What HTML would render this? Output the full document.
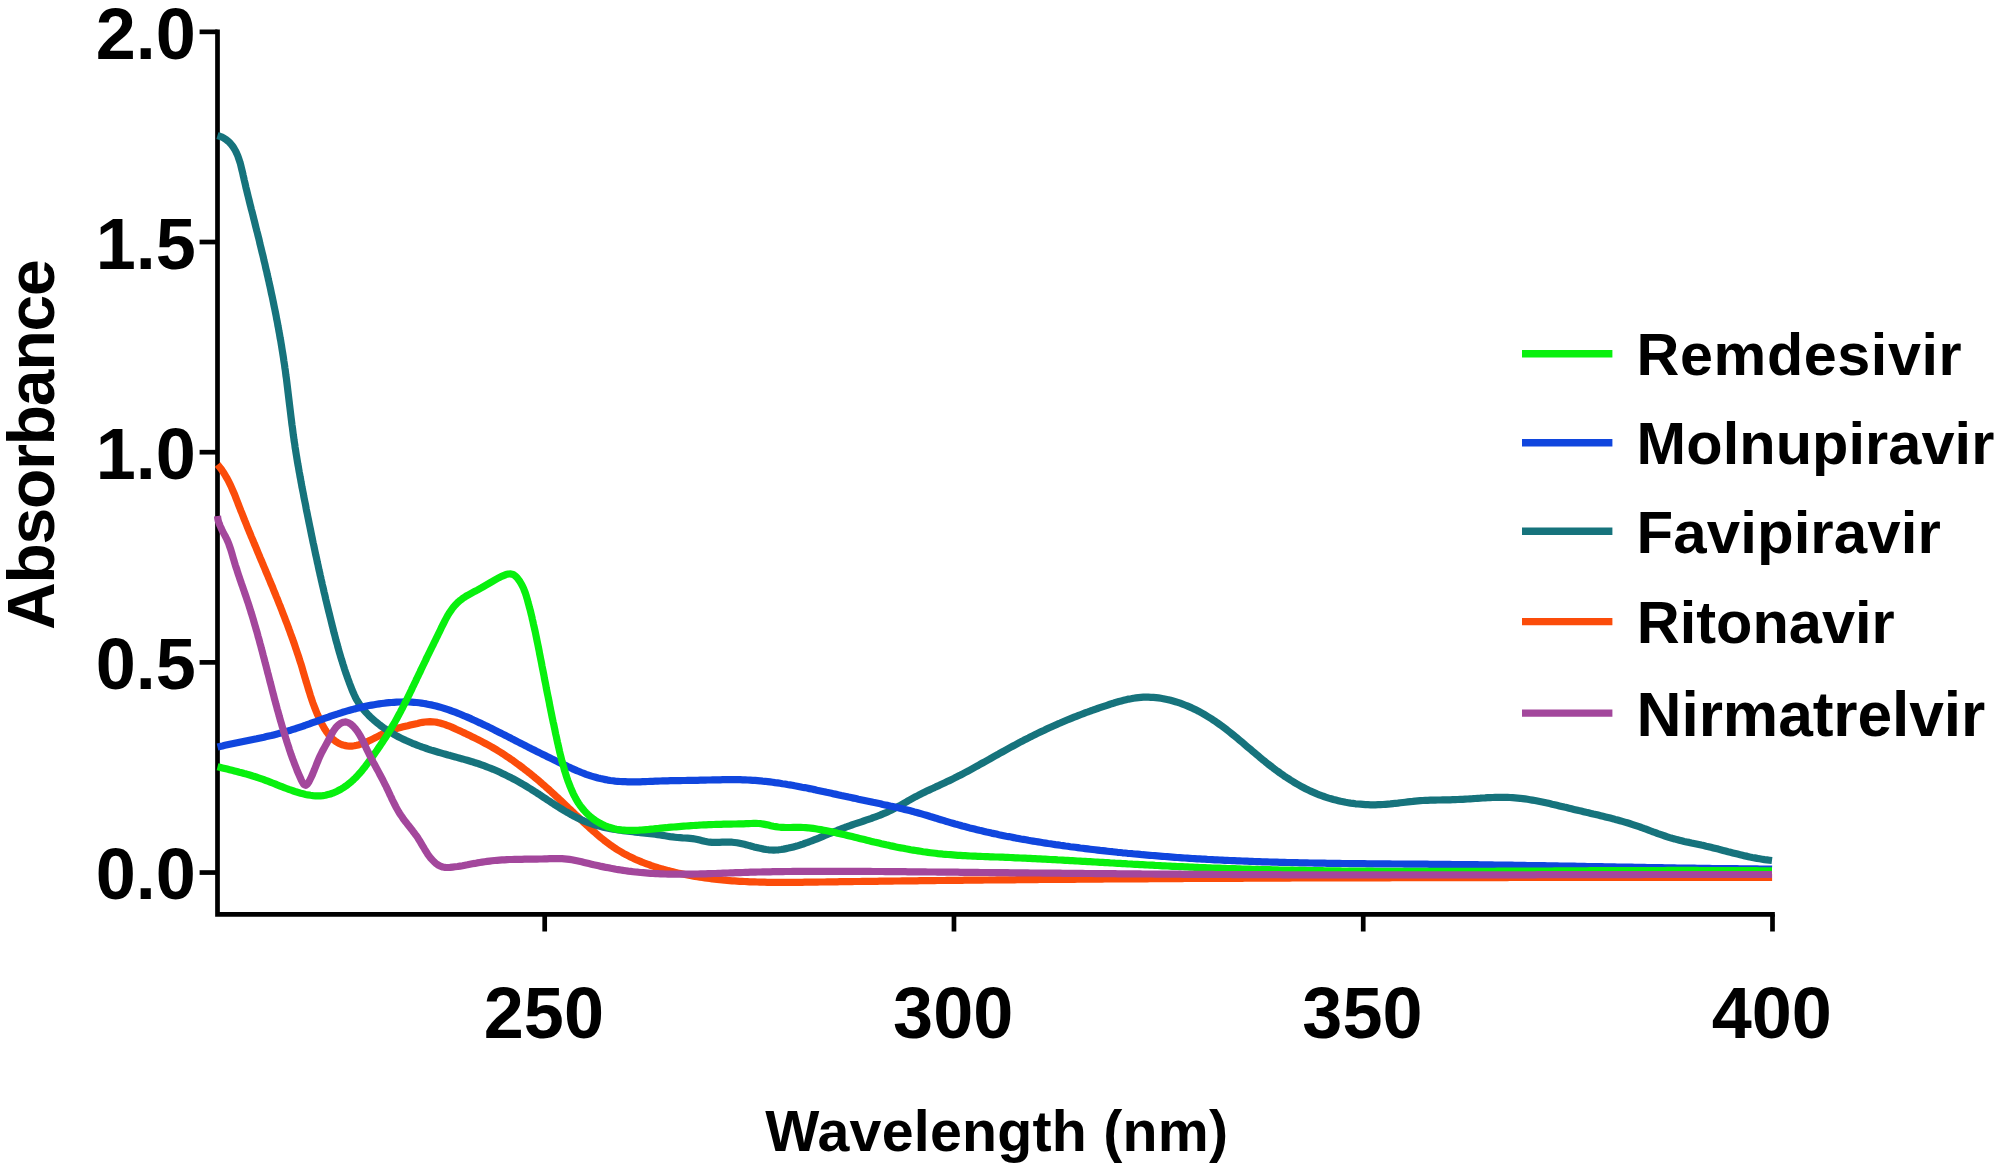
<!DOCTYPE html>
<html><head><meta charset="utf-8"><title>Absorbance spectra</title>
<style>html,body{margin:0;padding:0;background:#fff;}body{width:2008px;height:1172px;overflow:hidden;}svg{display:block;}</style>
</head><body>
<svg width="2008" height="1172" viewBox="0 0 2008 1172">
<rect width="100%" height="100%" fill="#fff"/>
<g stroke="#000" stroke-width="4.7" fill="none">
<path d="M217.50,31.85 V914.30 H1772.50" stroke-linejoin="miter" stroke-linecap="square"/>
<line x1="199.6" y1="872.55" x2="217.50" y2="872.55"/>
<line x1="199.6" y1="662.38" x2="217.50" y2="662.38"/>
<line x1="199.6" y1="452.20" x2="217.50" y2="452.20"/>
<line x1="199.6" y1="242.02" x2="217.50" y2="242.02"/>
<line x1="199.6" y1="31.85" x2="217.50" y2="31.85"/>
<line x1="544.70" y1="914.30" x2="544.70" y2="931.5"/>
<line x1="953.97" y1="914.30" x2="953.97" y2="931.5"/>
<line x1="1363.23" y1="914.30" x2="1363.23" y2="931.5"/>
<line x1="1772.50" y1="914.30" x2="1772.50" y2="931.5"/>
</g>
<path d="M217.6,464.5 L219.1,466.4 L220.7,468.4 L222.1,470.4 L223.5,472.5 L224.8,474.6 L226.1,476.8 L227.3,478.9 L228.5,481.2 L229.6,483.4 L230.7,485.6 L231.7,487.9 L232.7,490.2 L233.7,492.5 L234.7,494.8 L235.6,497.1 L236.5,499.5 L237.4,501.8 L238.3,504.1 L239.2,506.5 L240.1,508.8 L241.0,511.1 L242.0,513.4 L242.9,515.8 L243.8,518.1 L244.7,520.4 L245.7,522.7 L246.6,525.0 L247.5,527.4 L248.5,529.7 L249.4,532.0 L250.4,534.3 L251.3,536.6 L252.3,538.9 L253.3,541.2 L254.2,543.5 L255.2,545.8 L256.2,548.1 L257.1,550.4 L258.1,552.8 L259.1,555.1 L260.0,557.4 L261.0,559.7 L262.0,562.0 L262.9,564.3 L263.9,566.6 L264.9,568.9 L265.8,571.2 L266.8,573.5 L267.8,575.8 L268.7,578.1 L269.7,580.4 L270.6,582.7 L271.6,585.0 L272.6,587.3 L273.5,589.7 L274.4,592.0 L275.4,594.3 L276.3,596.6 L277.3,598.9 L278.2,601.2 L279.1,603.6 L280.1,605.9 L281.0,608.2 L281.9,610.5 L282.8,612.9 L283.7,615.2 L284.6,617.5 L285.5,619.9 L286.4,622.2 L287.3,624.5 L288.2,626.9 L289.0,629.2 L289.9,631.6 L290.7,633.9 L291.6,636.3 L292.4,638.6 L293.3,641.0 L294.1,643.3 L294.9,645.7 L295.7,648.1 L296.5,650.4 L297.3,652.8 L298.1,655.2 L298.9,657.5 L299.6,659.9 L300.4,662.3 L301.2,664.7 L301.9,667.1 L302.6,669.5 L303.3,671.9 L304.0,674.3 L304.7,676.7 L305.4,679.1 L306.1,681.5 L306.9,683.9 L307.6,686.3 L308.3,688.6 L309.0,691.0 L309.8,693.4 L310.5,695.8 L311.3,698.2 L312.1,700.6 L312.9,702.9 L313.8,705.3 L314.7,707.6 L315.6,709.9 L316.5,712.2 L317.5,714.6 L318.5,716.8 L319.5,719.1 L320.6,721.4 L321.7,723.6 L322.9,725.8 L324.1,728.0 L325.4,730.1 L326.8,732.2 L328.3,734.2 L329.9,736.2 L331.6,738.0 L333.4,739.7 L335.4,741.2 L337.5,742.6 L339.7,743.7 L342.0,744.7 L344.4,745.4 L346.9,745.9 L349.3,746.1 L351.8,746.1 L354.3,745.8 L356.8,745.3 L359.2,744.7 L361.6,743.9 L363.9,743.1 L366.2,742.1 L368.5,741.1 L370.8,740.0 L373.0,738.9 L375.2,737.8 L377.5,736.6 L379.7,735.5 L381.9,734.3 L384.1,733.2 L386.4,732.2 L388.7,731.2 L391.0,730.3 L393.4,729.5 L395.8,728.7 L398.2,728.0 L400.6,727.4 L403.0,726.8 L405.5,726.2 L407.9,725.7 L410.3,725.1 L412.8,724.5 L415.2,723.9 L417.6,723.4 L420.1,722.8 L422.5,722.4 L425.0,722.0 L427.5,721.8 L430.0,721.7 L432.5,721.8 L435.0,722.0 L437.4,722.4 L439.9,723.0 L442.3,723.7 L444.7,724.4 L447.0,725.3 L449.4,726.2 L451.7,727.1 L453.9,728.1 L456.2,729.2 L458.5,730.2 L460.8,731.3 L463.0,732.4 L465.3,733.4 L467.5,734.5 L469.8,735.6 L472.0,736.7 L474.3,737.8 L476.5,738.9 L478.8,740.0 L481.0,741.1 L483.2,742.3 L485.4,743.5 L487.6,744.7 L489.8,745.9 L492.0,747.1 L494.1,748.4 L496.3,749.7 L498.4,751.0 L500.5,752.3 L502.6,753.6 L504.7,755.0 L506.8,756.4 L508.9,757.8 L510.9,759.2 L513.0,760.6 L515.0,762.1 L517.0,763.6 L519.0,765.0 L521.0,766.5 L523.0,768.0 L525.0,769.6 L527.0,771.1 L528.9,772.7 L530.9,774.2 L532.8,775.8 L534.8,777.4 L536.7,779.0 L538.6,780.6 L540.5,782.2 L542.4,783.9 L544.3,785.5 L546.1,787.2 L548.0,788.8 L549.9,790.5 L551.7,792.2 L553.6,793.9 L555.4,795.6 L557.2,797.3 L559.1,799.0 L560.9,800.7 L562.7,802.4 L564.5,804.1 L566.3,805.8 L568.1,807.6 L569.9,809.3 L571.8,811.0 L573.6,812.7 L575.4,814.5 L577.2,816.2 L579.0,817.9 L580.8,819.7 L582.6,821.4 L584.4,823.1 L586.3,824.8 L588.1,826.5 L589.9,828.2 L591.8,829.8 L593.7,831.5 L595.6,833.1 L597.5,834.8 L599.4,836.4 L601.3,838.0 L603.2,839.5 L605.2,841.1 L607.2,842.6 L609.2,844.1 L611.2,845.6 L613.3,847.0 L615.3,848.4 L617.4,849.7 L619.6,851.0 L621.7,852.3 L623.9,853.6 L626.1,854.7 L628.3,855.9 L630.5,857.0 L632.8,858.1 L635.1,859.2 L637.4,860.2 L639.7,861.1 L642.0,862.1 L644.3,863.0 L646.6,863.9 L649.0,864.7 L651.3,865.6 L653.7,866.4 L656.1,867.1 L658.5,867.9 L660.9,868.6 L663.3,869.3 L665.7,869.9 L668.1,870.6 L670.5,871.2 L672.9,871.8 L675.4,872.4 L677.8,873.0 L680.3,873.5 L682.7,874.0 L685.1,874.5 L687.6,875.0 L690.1,875.5 L692.5,875.9 L695.0,876.4 L697.4,876.8 L699.9,877.2 L702.4,877.5 L704.9,877.9 L707.3,878.2 L709.8,878.5 L712.3,878.9 L714.8,879.1 L717.3,879.4 L719.7,879.7 L722.2,879.9 L724.7,880.2 L727.2,880.4 L729.7,880.6 L732.2,880.8 L734.7,880.9 L737.2,881.1 L739.7,881.3 L742.2,881.4 L744.7,881.5 L747.2,881.6 L749.7,881.8 L752.2,881.9 L754.7,881.9 L757.2,882.0 L759.7,882.1 L762.2,882.2 L764.7,882.2 L767.2,882.3 L769.7,882.3 L772.2,882.3 L774.7,882.3 L777.2,882.4 L779.7,882.4 L782.2,882.4 L784.7,882.4 L787.2,882.4 L789.7,882.4 L792.2,882.4 L794.7,882.3 L797.2,882.3 L799.7,882.3 L802.2,882.3 L804.7,882.2 L807.2,882.2 L809.7,882.2 L812.2,882.1 L814.7,882.1 L817.2,882.1 L819.7,882.0 L822.2,882.0 L824.7,882.0 L827.2,881.9 L829.7,881.9 L832.2,881.9 L834.7,881.8 L837.2,881.8 L839.6,881.7 L842.1,881.7 L844.6,881.7 L847.1,881.6 L849.6,881.6 L852.1,881.6 L854.6,881.5 L857.1,881.5 L859.6,881.5 L862.1,881.4 L864.6,881.4 L867.1,881.4 L869.6,881.3 L872.1,881.3 L874.6,881.3 L877.1,881.3 L879.6,881.2 L882.1,881.2 L884.6,881.2 L887.1,881.1 L889.6,881.1 L892.1,881.1 L894.6,881.0 L897.1,881.0 L899.6,881.0 L902.1,880.9 L904.6,880.9 L907.1,880.9 L909.6,880.9 L912.1,880.8 L914.6,880.8 L917.1,880.8 L919.6,880.7 L922.1,880.7 L924.6,880.7 L927.1,880.7 L929.6,880.6 L932.1,880.6 L934.6,880.6 L937.1,880.5 L939.6,880.5 L942.1,880.5 L944.6,880.5 L947.1,880.4 L949.6,880.4 L952.1,880.4 L954.6,880.4 L957.1,880.3 L959.6,880.3 L962.1,880.3 L964.6,880.2 L967.1,880.2 L969.6,880.2 L972.1,880.2 L974.6,880.1 L977.1,880.1 L979.6,880.1 L982.1,880.1 L984.6,880.0 L987.1,880.0 L989.6,880.0 L992.1,880.0 L994.6,880.0 L997.1,879.9 L999.6,879.9 L1002.1,879.9 L1004.6,879.9 L1007.1,879.8 L1009.6,879.8 L1012.1,879.8 L1014.6,879.8 L1017.1,879.7 L1019.6,879.7 L1022.1,879.7 L1024.6,879.7 L1027.1,879.7 L1029.6,879.6 L1032.1,879.6 L1034.6,879.6 L1037.1,879.6 L1039.6,879.5 L1042.1,879.5 L1044.6,879.5 L1047.1,879.5 L1049.6,879.5 L1052.1,879.4 L1054.6,879.4 L1057.1,879.4 L1059.6,879.4 L1062.1,879.4 L1064.6,879.3 L1067.1,879.3 L1069.6,879.3 L1072.1,879.3 L1074.6,879.3 L1077.1,879.2 L1079.6,879.2 L1082.1,879.2 L1084.6,879.2 L1087.1,879.2 L1089.6,879.1 L1092.1,879.1 L1094.6,879.1 L1097.1,879.1 L1099.6,879.1 L1102.1,879.1 L1104.6,879.0 L1107.1,879.0 L1109.6,879.0 L1112.1,879.0 L1114.6,879.0 L1117.1,879.0 L1119.6,878.9 L1122.1,878.9 L1124.6,878.9 L1127.1,878.9 L1129.6,878.9 L1132.1,878.9 L1134.6,878.8 L1137.1,878.8 L1139.6,878.8 L1142.1,878.8 L1144.6,878.8 L1147.1,878.8 L1149.6,878.7 L1152.1,878.7 L1154.6,878.7 L1157.1,878.7 L1159.6,878.7 L1162.1,878.7 L1164.6,878.7 L1167.1,878.6 L1169.6,878.6 L1172.1,878.6 L1174.6,878.6 L1177.1,878.6 L1179.6,878.6 L1182.1,878.6 L1184.6,878.5 L1187.1,878.5 L1189.6,878.5 L1192.1,878.5 L1194.6,878.5 L1197.1,878.5 L1199.6,878.5 L1202.1,878.4 L1204.6,878.4 L1207.1,878.4 L1209.6,878.4 L1212.1,878.4 L1214.6,878.4 L1217.1,878.4 L1219.6,878.4 L1222.1,878.3 L1224.6,878.3 L1227.1,878.3 L1229.6,878.3 L1232.1,878.3 L1234.6,878.3 L1237.1,878.3 L1239.6,878.3 L1242.1,878.3 L1244.6,878.2 L1247.1,878.2 L1249.6,878.2 L1252.1,878.2 L1254.6,878.2 L1257.1,878.2 L1259.6,878.2 L1262.1,878.2 L1264.6,878.2 L1267.1,878.1 L1269.6,878.1 L1272.1,878.1 L1274.6,878.1 L1277.1,878.1 L1279.6,878.1 L1282.1,878.1 L1284.6,878.1 L1287.1,878.1 L1289.6,878.1 L1292.1,878.0 L1294.6,878.0 L1297.1,878.0 L1299.6,878.0 L1302.1,878.0 L1304.6,878.0 L1307.1,878.0 L1309.6,878.0 L1312.1,878.0 L1314.6,878.0 L1317.1,878.0 L1319.6,878.0 L1322.1,877.9 L1324.6,877.9 L1327.1,877.9 L1329.6,877.9 L1332.1,877.9 L1334.6,877.9 L1337.1,877.9 L1339.6,877.9 L1342.1,877.9 L1344.6,877.9 L1347.1,877.9 L1349.6,877.9 L1352.1,877.9 L1354.6,877.8 L1357.1,877.8 L1359.6,877.8 L1362.1,877.8 L1364.6,877.8 L1367.1,877.8 L1369.6,877.8 L1372.1,877.8 L1374.6,877.8 L1377.1,877.8 L1379.6,877.8 L1382.1,877.8 L1384.6,877.8 L1387.1,877.8 L1389.6,877.8 L1392.1,877.7 L1394.6,877.7 L1397.1,877.7 L1399.6,877.7 L1402.1,877.7 L1404.6,877.7 L1407.1,877.7 L1409.6,877.7 L1412.1,877.7 L1414.6,877.7 L1417.1,877.7 L1419.6,877.7 L1422.1,877.7 L1424.6,877.7 L1427.1,877.7 L1429.6,877.7 L1432.1,877.7 L1434.6,877.7 L1437.1,877.7 L1439.6,877.6 L1442.1,877.6 L1444.6,877.6 L1447.1,877.6 L1449.6,877.6 L1452.1,877.6 L1454.6,877.6 L1457.1,877.6 L1459.6,877.6 L1462.1,877.6 L1464.6,877.6 L1467.1,877.6 L1469.6,877.6 L1472.1,877.6 L1474.6,877.6 L1477.1,877.6 L1479.6,877.6 L1482.1,877.6 L1484.6,877.6 L1487.1,877.6 L1489.6,877.6 L1492.1,877.6 L1494.6,877.6 L1497.1,877.6 L1499.6,877.6 L1502.1,877.6 L1504.6,877.6 L1507.1,877.6 L1509.6,877.5 L1512.1,877.5 L1514.6,877.5 L1517.1,877.5 L1519.6,877.5 L1522.1,877.5 L1524.6,877.5 L1527.1,877.5 L1529.6,877.5 L1532.1,877.5 L1534.6,877.5 L1537.1,877.5 L1539.6,877.5 L1542.1,877.5 L1544.6,877.5 L1547.1,877.5 L1549.6,877.5 L1552.1,877.5 L1554.6,877.5 L1557.1,877.5 L1559.6,877.5 L1562.1,877.5 L1564.6,877.5 L1567.1,877.5 L1569.6,877.5 L1572.1,877.5 L1574.6,877.5 L1577.1,877.5 L1579.6,877.5 L1582.1,877.5 L1584.6,877.5 L1587.1,877.5 L1589.6,877.5 L1592.1,877.5 L1594.6,877.5 L1597.1,877.5 L1599.6,877.5 L1602.1,877.5 L1604.6,877.5 L1607.1,877.5 L1609.6,877.5 L1612.1,877.5 L1614.6,877.5 L1617.1,877.5 L1619.6,877.5 L1622.1,877.5 L1624.6,877.5 L1627.1,877.5 L1629.6,877.5 L1632.1,877.5 L1634.6,877.5 L1637.1,877.5 L1639.6,877.5 L1642.1,877.5 L1644.6,877.5 L1647.1,877.5 L1649.6,877.5 L1652.1,877.5 L1654.6,877.5 L1657.1,877.5 L1659.6,877.5 L1662.1,877.4 L1664.6,877.4 L1667.1,877.4 L1669.6,877.4 L1672.1,877.4 L1674.6,877.4 L1677.1,877.4 L1679.6,877.4 L1682.1,877.4 L1684.6,877.4 L1687.1,877.4 L1689.6,877.4 L1692.1,877.4 L1694.6,877.4 L1697.1,877.4 L1699.6,877.4 L1702.1,877.4 L1704.6,877.4 L1707.1,877.4 L1709.6,877.4 L1712.1,877.4 L1714.6,877.4 L1717.1,877.4 L1719.6,877.4 L1722.1,877.4 L1724.6,877.4 L1727.1,877.4 L1729.6,877.4 L1732.1,877.4 L1734.6,877.4 L1737.1,877.4 L1739.6,877.4 L1742.1,877.4 L1744.6,877.4 L1747.1,877.4 L1749.6,877.4 L1752.1,877.4 L1754.6,877.4 L1757.1,877.4 L1759.6,877.4 L1762.1,877.4 L1764.6,877.4 L1767.1,877.4 L1769.6,877.4 L1772.1,877.4" fill="none" stroke="#fb4c0a" stroke-width="7.2" stroke-linejoin="round" stroke-linecap="butt"/>
<path d="M217.4,135.6 L219.8,136.3 L222.1,137.2 L224.3,138.4 L226.4,139.8 L228.3,141.3 L230.1,143.1 L231.7,145.0 L233.2,147.0 L234.5,149.1 L235.7,151.3 L236.8,153.6 L237.8,155.9 L238.6,158.2 L239.4,160.6 L240.2,163.0 L240.8,165.4 L241.4,167.8 L242.0,170.3 L242.6,172.7 L243.1,175.1 L243.7,177.6 L244.2,180.0 L244.8,182.4 L245.4,184.9 L245.9,187.3 L246.5,189.7 L247.1,192.2 L247.7,194.6 L248.3,197.0 L248.9,199.4 L249.5,201.9 L250.1,204.3 L250.7,206.7 L251.3,209.1 L252.0,211.6 L252.6,214.0 L253.2,216.4 L253.8,218.8 L254.4,221.2 L255.0,223.7 L255.6,226.1 L256.2,228.5 L256.8,230.9 L257.5,233.4 L258.1,235.8 L258.7,238.2 L259.3,240.6 L259.8,243.1 L260.4,245.5 L261.0,247.9 L261.6,250.4 L262.2,252.8 L262.8,255.2 L263.4,257.6 L263.9,260.1 L264.5,262.5 L265.1,264.9 L265.6,267.4 L266.2,269.8 L266.8,272.2 L267.3,274.7 L267.9,277.1 L268.4,279.6 L269.0,282.0 L269.5,284.4 L270.1,286.9 L270.6,289.3 L271.1,291.8 L271.6,294.2 L272.2,296.6 L272.7,299.1 L273.2,301.5 L273.7,304.0 L274.2,306.4 L274.7,308.9 L275.2,311.3 L275.7,313.8 L276.2,316.2 L276.6,318.7 L277.1,321.1 L277.6,323.6 L278.0,326.1 L278.5,328.5 L278.9,331.0 L279.4,333.4 L279.8,335.9 L280.2,338.3 L280.7,340.8 L281.1,343.3 L281.5,345.7 L281.9,348.2 L282.3,350.7 L282.7,353.1 L283.1,355.6 L283.5,358.1 L283.8,360.5 L284.2,363.0 L284.6,365.5 L284.9,368.0 L285.3,370.4 L285.6,372.9 L285.9,375.4 L286.3,377.9 L286.6,380.3 L286.9,382.8 L287.2,385.3 L287.5,387.8 L287.8,390.3 L288.1,392.7 L288.4,395.2 L288.7,397.7 L289.0,400.2 L289.3,402.7 L289.6,405.2 L289.9,407.6 L290.2,410.1 L290.5,412.6 L290.8,415.1 L291.1,417.6 L291.4,420.0 L291.7,422.5 L292.0,425.0 L292.4,427.5 L292.7,430.0 L293.0,432.4 L293.3,434.9 L293.7,437.4 L294.0,439.9 L294.4,442.3 L294.8,444.8 L295.1,447.3 L295.5,449.7 L295.9,452.2 L296.3,454.7 L296.7,457.1 L297.1,459.6 L297.5,462.1 L297.9,464.5 L298.4,467.0 L298.8,469.5 L299.2,471.9 L299.7,474.4 L300.1,476.8 L300.6,479.3 L301.0,481.8 L301.5,484.2 L301.9,486.7 L302.4,489.1 L302.9,491.6 L303.4,494.0 L303.8,496.5 L304.3,498.9 L304.8,501.4 L305.3,503.8 L305.8,506.3 L306.2,508.7 L306.7,511.2 L307.2,513.6 L307.7,516.1 L308.2,518.5 L308.7,521.0 L309.2,523.4 L309.7,525.9 L310.2,528.3 L310.7,530.8 L311.2,533.2 L311.7,535.7 L312.2,538.1 L312.7,540.6 L313.2,543.0 L313.8,545.5 L314.3,547.9 L314.8,550.4 L315.3,552.8 L315.8,555.2 L316.4,557.7 L316.9,560.1 L317.4,562.6 L318.0,565.0 L318.5,567.4 L319.0,569.9 L319.6,572.3 L320.1,574.8 L320.7,577.2 L321.2,579.6 L321.8,582.1 L322.3,584.5 L322.9,586.9 L323.5,589.4 L324.0,591.8 L324.6,594.2 L325.2,596.7 L325.7,599.1 L326.3,601.5 L326.9,604.0 L327.5,606.4 L328.1,608.8 L328.7,611.3 L329.3,613.7 L329.9,616.1 L330.5,618.5 L331.1,621.0 L331.7,623.4 L332.3,625.8 L332.9,628.2 L333.5,630.7 L334.1,633.1 L334.8,635.5 L335.4,637.9 L336.0,640.3 L336.7,642.7 L337.4,645.1 L338.0,647.6 L338.7,650.0 L339.4,652.4 L340.1,654.8 L340.8,657.2 L341.5,659.5 L342.3,661.9 L343.0,664.3 L343.8,666.7 L344.5,669.1 L345.3,671.4 L346.1,673.8 L347.0,676.2 L347.8,678.5 L348.7,680.9 L349.5,683.2 L350.4,685.6 L351.3,687.9 L352.2,690.2 L353.2,692.5 L354.2,694.8 L355.3,697.1 L356.4,699.3 L357.7,701.4 L359.0,703.6 L360.4,705.6 L361.9,707.6 L363.5,709.6 L365.1,711.5 L366.8,713.3 L368.5,715.1 L370.3,716.9 L372.1,718.6 L374.0,720.2 L375.9,721.9 L377.8,723.4 L379.8,725.0 L381.8,726.5 L383.8,727.9 L385.9,729.3 L388.0,730.7 L390.1,732.0 L392.2,733.3 L394.4,734.6 L396.6,735.8 L398.8,737.0 L401.0,738.1 L403.3,739.2 L405.5,740.3 L407.8,741.3 L410.1,742.3 L412.4,743.3 L414.7,744.2 L417.0,745.1 L419.4,746.0 L421.7,746.9 L424.1,747.7 L426.4,748.5 L428.8,749.3 L431.2,750.1 L433.6,750.8 L436.0,751.5 L438.3,752.2 L440.7,752.9 L443.2,753.6 L445.6,754.3 L448.0,755.0 L450.4,755.6 L452.8,756.3 L455.2,756.9 L457.6,757.6 L460.0,758.3 L462.4,758.9 L464.8,759.6 L467.2,760.3 L469.6,761.0 L472.0,761.7 L474.4,762.5 L476.8,763.2 L479.2,764.0 L481.5,764.8 L483.9,765.7 L486.2,766.6 L488.5,767.5 L490.9,768.4 L493.2,769.3 L495.5,770.3 L497.8,771.3 L500.0,772.3 L502.3,773.4 L504.6,774.5 L506.8,775.6 L509.0,776.7 L511.3,777.8 L513.5,779.0 L515.7,780.2 L517.9,781.4 L520.0,782.6 L522.2,783.9 L524.4,785.1 L526.5,786.4 L528.6,787.7 L530.8,789.0 L532.9,790.4 L535.0,791.7 L537.1,793.1 L539.2,794.4 L541.2,795.8 L543.3,797.2 L545.4,798.6 L547.5,800.0 L549.6,801.3 L551.7,802.7 L553.8,804.1 L555.9,805.4 L558.0,806.8 L560.1,808.1 L562.2,809.4 L564.3,810.7 L566.5,812.0 L568.7,813.2 L570.8,814.5 L573.0,815.7 L575.2,816.8 L577.5,817.9 L579.7,819.0 L582.0,820.1 L584.3,821.1 L586.6,822.0 L588.9,822.9 L591.3,823.7 L593.7,824.5 L596.1,825.3 L598.5,825.9 L600.9,826.6 L603.3,827.2 L605.7,827.7 L608.2,828.2 L610.6,828.7 L613.1,829.1 L615.6,829.5 L618.0,829.9 L620.5,830.3 L623.0,830.6 L625.5,830.9 L627.9,831.2 L630.4,831.5 L632.9,831.8 L635.4,832.1 L637.9,832.3 L640.4,832.6 L642.9,832.9 L645.3,833.1 L647.8,833.4 L650.3,833.7 L652.8,834.0 L655.3,834.3 L657.7,834.7 L660.2,835.0 L662.7,835.4 L665.1,835.8 L667.6,836.2 L670.1,836.6 L672.6,836.9 L675.0,837.2 L677.5,837.5 L680.0,837.7 L682.5,837.9 L685.0,838.0 L687.5,838.2 L690.0,838.4 L692.5,838.6 L694.9,839.0 L697.4,839.5 L699.8,840.1 L702.2,840.7 L704.7,841.3 L707.1,841.8 L709.6,842.2 L712.1,842.4 L714.6,842.4 L717.1,842.4 L719.6,842.3 L722.1,842.2 L724.6,842.2 L727.1,842.1 L729.6,842.1 L732.1,842.2 L734.5,842.5 L737.0,842.8 L739.5,843.3 L741.9,843.8 L744.4,844.3 L746.8,844.9 L749.2,845.6 L751.6,846.2 L754.0,846.9 L756.4,847.5 L758.9,848.1 L761.3,848.6 L763.8,849.1 L766.2,849.5 L768.7,849.8 L771.2,850.0 L773.7,850.1 L776.2,850.0 L778.7,849.8 L781.2,849.5 L783.6,849.1 L786.1,848.6 L788.5,848.1 L791.0,847.5 L793.4,846.9 L795.8,846.3 L798.2,845.6 L800.6,844.8 L803.0,844.1 L805.3,843.2 L807.7,842.4 L810.0,841.5 L812.4,840.6 L814.7,839.7 L817.0,838.8 L819.3,837.9 L821.6,836.9 L823.9,835.9 L826.2,835.0 L828.5,834.0 L830.8,833.1 L833.2,832.1 L835.5,831.2 L837.8,830.2 L840.1,829.3 L842.4,828.4 L844.8,827.5 L847.1,826.7 L849.5,825.8 L851.8,825.0 L854.2,824.2 L856.6,823.4 L858.9,822.6 L861.3,821.8 L863.7,821.0 L866.0,820.2 L868.4,819.4 L870.8,818.6 L873.1,817.7 L875.5,816.9 L877.8,816.0 L880.1,815.1 L882.4,814.1 L884.7,813.2 L887.0,812.2 L889.3,811.1 L891.6,810.0 L893.8,808.9 L896.0,807.7 L898.2,806.5 L900.4,805.3 L902.5,804.1 L904.7,802.8 L906.9,801.6 L909.0,800.3 L911.2,799.1 L913.4,797.9 L915.6,796.7 L917.8,795.6 L920.0,794.4 L922.3,793.3 L924.5,792.2 L926.8,791.1 L929.0,790.1 L931.3,789.0 L933.6,788.0 L935.8,786.9 L938.1,785.9 L940.4,784.8 L942.6,783.8 L944.9,782.7 L947.2,781.6 L949.4,780.6 L951.7,779.5 L953.9,778.4 L956.1,777.2 L958.4,776.1 L960.6,775.0 L962.8,773.8 L965.0,772.6 L967.2,771.5 L969.4,770.3 L971.6,769.1 L973.8,767.9 L976.0,766.7 L978.2,765.5 L980.4,764.2 L982.5,763.0 L984.7,761.8 L986.9,760.6 L989.1,759.4 L991.3,758.1 L993.4,756.9 L995.6,755.7 L997.8,754.5 L1000.0,753.2 L1002.2,752.0 L1004.3,750.8 L1006.5,749.6 L1008.7,748.4 L1010.9,747.2 L1013.1,746.0 L1015.3,744.8 L1017.5,743.6 L1019.7,742.4 L1021.9,741.3 L1024.1,740.1 L1026.4,739.0 L1028.6,737.9 L1030.8,736.7 L1033.0,735.6 L1035.3,734.5 L1037.5,733.4 L1039.8,732.3 L1042.0,731.2 L1044.3,730.2 L1046.6,729.1 L1048.8,728.0 L1051.1,727.0 L1053.4,726.0 L1055.6,725.0 L1057.9,723.9 L1060.2,723.0 L1062.5,722.0 L1064.8,721.0 L1067.1,720.0 L1069.4,719.1 L1071.8,718.1 L1074.1,717.2 L1076.4,716.3 L1078.7,715.4 L1081.1,714.5 L1083.4,713.6 L1085.7,712.7 L1088.1,711.9 L1090.4,711.0 L1092.8,710.2 L1095.1,709.3 L1097.5,708.5 L1099.9,707.7 L1102.2,706.9 L1104.6,706.1 L1107.0,705.3 L1109.3,704.5 L1111.7,703.7 L1114.1,703.0 L1116.5,702.2 L1118.9,701.5 L1121.3,700.9 L1123.7,700.3 L1126.1,699.7 L1128.6,699.1 L1131.0,698.7 L1133.5,698.2 L1136.0,697.9 L1138.4,697.6 L1140.9,697.4 L1143.4,697.2 L1145.9,697.2 L1148.4,697.2 L1150.9,697.3 L1153.4,697.4 L1155.9,697.6 L1158.4,697.9 L1160.9,698.3 L1163.3,698.7 L1165.8,699.2 L1168.2,699.7 L1170.6,700.3 L1173.1,701.0 L1175.5,701.7 L1177.8,702.4 L1180.2,703.2 L1182.6,704.1 L1184.9,705.0 L1187.2,705.9 L1189.5,706.9 L1191.8,707.9 L1194.0,709.0 L1196.3,710.1 L1198.5,711.2 L1200.7,712.4 L1202.9,713.6 L1205.1,714.9 L1207.2,716.2 L1209.3,717.5 L1211.4,718.8 L1213.5,720.2 L1215.6,721.6 L1217.6,723.0 L1219.7,724.5 L1221.7,725.9 L1223.7,727.4 L1225.7,728.9 L1227.7,730.5 L1229.6,732.0 L1231.6,733.6 L1233.5,735.1 L1235.5,736.7 L1237.4,738.3 L1239.3,739.9 L1241.2,741.5 L1243.1,743.1 L1245.0,744.8 L1246.9,746.4 L1248.8,748.0 L1250.7,749.6 L1252.6,751.2 L1254.5,752.8 L1256.5,754.5 L1258.4,756.1 L1260.3,757.7 L1262.2,759.3 L1264.2,760.8 L1266.1,762.4 L1268.0,764.0 L1270.0,765.5 L1272.0,767.0 L1274.0,768.6 L1276.0,770.1 L1278.0,771.5 L1280.0,773.0 L1282.1,774.4 L1284.1,775.9 L1286.2,777.3 L1288.3,778.6 L1290.4,780.0 L1292.5,781.3 L1294.6,782.6 L1296.8,783.9 L1299.0,785.1 L1301.1,786.3 L1303.3,787.5 L1305.6,788.7 L1307.8,789.8 L1310.0,790.9 L1312.3,791.9 L1314.6,792.9 L1316.9,793.9 L1319.2,794.8 L1321.6,795.7 L1323.9,796.5 L1326.3,797.3 L1328.7,798.1 L1331.1,798.8 L1333.5,799.5 L1335.9,800.1 L1338.3,800.7 L1340.7,801.3 L1343.2,801.8 L1345.6,802.3 L1348.1,802.7 L1350.6,803.1 L1353.0,803.4 L1355.5,803.8 L1358.0,804.0 L1360.5,804.2 L1363.0,804.4 L1365.5,804.6 L1368.0,804.7 L1370.5,804.8 L1373.0,804.8 L1375.5,804.8 L1378.0,804.7 L1380.5,804.6 L1383.0,804.5 L1385.5,804.3 L1387.9,804.1 L1390.4,803.9 L1392.9,803.6 L1395.4,803.3 L1397.9,803.1 L1400.4,802.8 L1402.9,802.5 L1405.3,802.2 L1407.8,801.9 L1410.3,801.6 L1412.8,801.4 L1415.3,801.1 L1417.8,800.9 L1420.3,800.7 L1422.7,800.5 L1425.2,800.4 L1427.7,800.3 L1430.2,800.2 L1432.7,800.1 L1435.2,800.1 L1437.7,800.0 L1440.2,800.0 L1442.7,799.9 L1445.2,799.9 L1447.7,799.8 L1450.2,799.8 L1452.7,799.7 L1455.2,799.6 L1457.7,799.5 L1460.2,799.4 L1462.7,799.3 L1465.2,799.1 L1467.7,799.0 L1470.2,798.8 L1472.7,798.7 L1475.2,798.5 L1477.7,798.3 L1480.2,798.2 L1482.7,798.0 L1485.1,797.9 L1487.6,797.7 L1490.1,797.6 L1492.6,797.5 L1495.1,797.4 L1497.6,797.4 L1500.1,797.3 L1502.6,797.3 L1505.1,797.4 L1507.6,797.4 L1510.1,797.5 L1512.6,797.7 L1515.1,797.9 L1517.6,798.1 L1520.1,798.3 L1522.6,798.6 L1525.0,798.9 L1527.5,799.3 L1530.0,799.7 L1532.4,800.1 L1534.9,800.5 L1537.4,801.0 L1539.8,801.5 L1542.3,802.0 L1544.7,802.5 L1547.1,803.0 L1549.6,803.6 L1552.0,804.2 L1554.5,804.7 L1556.9,805.3 L1559.3,805.9 L1561.7,806.5 L1564.2,807.1 L1566.6,807.6 L1569.0,808.2 L1571.5,808.8 L1573.9,809.4 L1576.3,810.0 L1578.8,810.6 L1581.2,811.1 L1583.6,811.7 L1586.1,812.3 L1588.5,812.8 L1590.9,813.4 L1593.4,814.0 L1595.8,814.5 L1598.2,815.1 L1600.6,815.7 L1603.1,816.3 L1605.5,816.9 L1607.9,817.5 L1610.3,818.1 L1612.8,818.7 L1615.2,819.4 L1617.6,820.0 L1620.0,820.7 L1622.4,821.4 L1624.8,822.1 L1627.2,822.8 L1629.6,823.5 L1632.0,824.3 L1634.3,825.1 L1636.7,825.9 L1639.1,826.7 L1641.4,827.5 L1643.8,828.4 L1646.1,829.2 L1648.5,830.1 L1650.8,831.0 L1653.1,831.9 L1655.5,832.7 L1657.8,833.6 L1660.2,834.4 L1662.5,835.2 L1664.9,836.0 L1667.3,836.8 L1669.7,837.6 L1672.1,838.3 L1674.5,838.9 L1676.9,839.6 L1679.3,840.2 L1681.7,840.8 L1684.2,841.4 L1686.6,841.9 L1689.1,842.4 L1691.5,843.0 L1693.9,843.5 L1696.4,844.0 L1698.8,844.5 L1701.3,845.1 L1703.7,845.6 L1706.1,846.2 L1708.6,846.7 L1711.0,847.3 L1713.4,847.9 L1715.9,848.5 L1718.3,849.1 L1720.7,849.8 L1723.1,850.4 L1725.5,851.0 L1728.0,851.7 L1730.4,852.3 L1732.8,852.9 L1735.2,853.5 L1737.6,854.1 L1740.1,854.7 L1742.5,855.3 L1744.9,855.9 L1747.4,856.4 L1749.8,857.0 L1752.3,857.5 L1754.7,857.9 L1757.2,858.4 L1759.6,858.8 L1762.1,859.2 L1764.6,859.6 L1767.0,859.9 L1769.5,860.2 L1772.0,860.5" fill="none" stroke="#16737c" stroke-width="7.2" stroke-linejoin="round" stroke-linecap="butt"/>
<path d="M217.5,747.0 L220.0,746.4 L222.4,745.9 L224.9,745.3 L227.3,744.8 L229.7,744.3 L232.2,743.8 L234.6,743.3 L237.1,742.8 L239.5,742.3 L242.0,741.8 L244.4,741.3 L246.9,740.8 L249.3,740.3 L251.8,739.8 L254.2,739.3 L256.7,738.8 L259.1,738.2 L261.6,737.7 L264.0,737.2 L266.4,736.6 L268.9,736.0 L271.3,735.5 L273.7,734.9 L276.2,734.3 L278.6,733.6 L281.0,733.0 L283.4,732.3 L285.8,731.6 L288.2,730.9 L290.6,730.2 L293.0,729.4 L295.4,728.7 L297.7,727.9 L300.1,727.1 L302.5,726.3 L304.8,725.5 L307.2,724.6 L309.5,723.8 L311.9,722.9 L314.2,722.1 L316.6,721.3 L319.0,720.4 L321.3,719.6 L323.7,718.7 L326.0,717.9 L328.4,717.1 L330.7,716.2 L333.1,715.4 L335.5,714.6 L337.8,713.9 L340.2,713.1 L342.6,712.3 L345.0,711.6 L347.4,710.9 L349.8,710.2 L352.2,709.6 L354.6,708.9 L357.0,708.3 L359.5,707.7 L361.9,707.1 L364.4,706.6 L366.8,706.1 L369.2,705.6 L371.7,705.1 L374.2,704.7 L376.6,704.3 L379.1,703.9 L381.6,703.5 L384.1,703.2 L386.5,702.9 L389.0,702.7 L391.5,702.5 L394.0,702.3 L396.5,702.1 L399.0,702.0 L401.5,702.0 L404.0,701.9 L406.5,702.0 L409.0,702.0 L411.5,702.1 L414.0,702.3 L416.5,702.5 L419.0,702.8 L421.4,703.1 L423.9,703.5 L426.4,703.9 L428.8,704.4 L431.3,704.9 L433.7,705.4 L436.1,706.0 L438.6,706.7 L441.0,707.4 L443.4,708.1 L445.7,708.9 L448.1,709.7 L450.5,710.5 L452.8,711.3 L455.2,712.2 L457.5,713.1 L459.8,714.0 L462.1,715.0 L464.4,716.0 L466.7,716.9 L469.0,717.9 L471.3,718.9 L473.6,720.0 L475.9,721.0 L478.1,722.1 L480.4,723.1 L482.7,724.2 L484.9,725.3 L487.2,726.3 L489.4,727.4 L491.7,728.5 L493.9,729.6 L496.1,730.8 L498.4,731.9 L500.6,733.0 L502.8,734.1 L505.1,735.3 L507.3,736.4 L509.5,737.5 L511.7,738.7 L514.0,739.8 L516.2,741.0 L518.4,742.1 L520.6,743.2 L522.9,744.4 L525.1,745.5 L527.3,746.6 L529.5,747.8 L531.8,748.9 L534.0,750.0 L536.2,751.2 L538.5,752.3 L540.7,753.4 L542.9,754.5 L545.2,755.6 L547.4,756.7 L549.7,757.8 L551.9,758.9 L554.2,760.0 L556.4,761.1 L558.7,762.2 L560.9,763.3 L563.2,764.4 L565.4,765.4 L567.7,766.5 L570.0,767.5 L572.2,768.6 L574.5,769.6 L576.8,770.6 L579.1,771.5 L581.4,772.5 L583.8,773.4 L586.1,774.3 L588.5,775.1 L590.8,775.9 L593.2,776.6 L595.6,777.3 L598.0,778.0 L600.5,778.6 L602.9,779.1 L605.4,779.6 L607.8,780.1 L610.3,780.5 L612.8,780.8 L615.2,781.1 L617.7,781.3 L620.2,781.5 L622.7,781.6 L625.2,781.7 L627.7,781.8 L630.2,781.9 L632.7,781.9 L635.2,781.8 L637.7,781.8 L640.2,781.8 L642.7,781.7 L645.2,781.6 L647.7,781.5 L650.2,781.4 L652.7,781.3 L655.2,781.2 L657.7,781.1 L660.2,781.0 L662.7,780.9 L665.2,780.9 L667.7,780.8 L670.2,780.7 L672.7,780.7 L675.2,780.6 L677.7,780.6 L680.2,780.6 L682.7,780.5 L685.2,780.5 L687.7,780.4 L690.2,780.4 L692.7,780.4 L695.2,780.3 L697.7,780.3 L700.2,780.2 L702.7,780.2 L705.2,780.1 L707.7,780.0 L710.2,780.0 L712.7,779.9 L715.2,779.9 L717.7,779.8 L720.2,779.8 L722.7,779.7 L725.2,779.7 L727.7,779.7 L730.2,779.6 L732.7,779.6 L735.2,779.7 L737.7,779.7 L740.2,779.7 L742.7,779.8 L745.2,779.9 L747.7,780.0 L750.2,780.1 L752.7,780.3 L755.1,780.4 L757.6,780.6 L760.1,780.8 L762.6,781.1 L765.1,781.3 L767.6,781.6 L770.1,781.9 L772.6,782.2 L775.0,782.6 L777.5,782.9 L780.0,783.3 L782.4,783.7 L784.9,784.0 L787.4,784.5 L789.8,784.9 L792.3,785.3 L794.8,785.8 L797.2,786.2 L799.7,786.7 L802.1,787.2 L804.6,787.6 L807.0,788.1 L809.5,788.6 L811.9,789.1 L814.4,789.6 L816.8,790.2 L819.3,790.7 L821.7,791.2 L824.2,791.7 L826.6,792.3 L829.0,792.8 L831.5,793.3 L833.9,793.9 L836.4,794.4 L838.8,794.9 L841.3,795.5 L843.7,796.0 L846.1,796.5 L848.6,797.1 L851.0,797.6 L853.5,798.1 L855.9,798.6 L858.4,799.2 L860.8,799.7 L863.3,800.2 L865.7,800.7 L868.1,801.2 L870.6,801.7 L873.0,802.3 L875.5,802.8 L877.9,803.3 L880.4,803.8 L882.8,804.4 L885.2,804.9 L887.7,805.4 L890.1,806.0 L892.6,806.5 L895.0,807.1 L897.4,807.6 L899.9,808.2 L902.3,808.8 L904.7,809.4 L907.2,810.0 L909.6,810.6 L912.0,811.2 L914.4,811.9 L916.8,812.5 L919.2,813.2 L921.6,813.9 L924.0,814.6 L926.4,815.3 L928.8,816.0 L931.2,816.8 L933.6,817.5 L936.0,818.2 L938.4,819.0 L940.8,819.7 L943.2,820.4 L945.6,821.2 L948.0,821.9 L950.4,822.6 L952.8,823.3 L955.2,824.0 L957.6,824.6 L960.0,825.3 L962.4,826.0 L964.8,826.6 L967.2,827.2 L969.6,827.9 L972.1,828.5 L974.5,829.1 L976.9,829.7 L979.3,830.3 L981.8,830.8 L984.2,831.4 L986.6,832.0 L989.1,832.5 L991.5,833.1 L994.0,833.6 L996.4,834.1 L998.9,834.7 L1001.3,835.2 L1003.7,835.7 L1006.2,836.2 L1008.7,836.6 L1011.1,837.1 L1013.6,837.6 L1016.0,838.1 L1018.5,838.5 L1020.9,839.0 L1023.4,839.4 L1025.9,839.8 L1028.3,840.3 L1030.8,840.7 L1033.2,841.1 L1035.7,841.5 L1038.2,841.9 L1040.6,842.3 L1043.1,842.7 L1045.6,843.1 L1048.1,843.5 L1050.5,843.8 L1053.0,844.2 L1055.5,844.6 L1057.9,844.9 L1060.4,845.3 L1062.9,845.6 L1065.4,846.0 L1067.8,846.3 L1070.3,846.7 L1072.8,847.0 L1075.3,847.3 L1077.8,847.6 L1080.2,848.0 L1082.7,848.3 L1085.2,848.6 L1087.7,848.9 L1090.2,849.2 L1092.6,849.5 L1095.1,849.8 L1097.6,850.1 L1100.1,850.4 L1102.6,850.6 L1105.1,850.9 L1107.5,851.2 L1110.0,851.5 L1112.5,851.7 L1115.0,852.0 L1117.5,852.3 L1120.0,852.5 L1122.5,852.8 L1124.9,853.0 L1127.4,853.3 L1129.9,853.5 L1132.4,853.7 L1134.9,854.0 L1137.4,854.2 L1139.9,854.4 L1142.4,854.7 L1144.9,854.9 L1147.3,855.1 L1149.8,855.3 L1152.3,855.5 L1154.8,855.7 L1157.3,855.9 L1159.8,856.1 L1162.3,856.3 L1164.8,856.5 L1167.3,856.7 L1169.8,856.9 L1172.3,857.1 L1174.8,857.3 L1177.3,857.5 L1179.7,857.6 L1182.2,857.8 L1184.7,858.0 L1187.2,858.1 L1189.7,858.3 L1192.2,858.5 L1194.7,858.6 L1197.2,858.8 L1199.7,858.9 L1202.2,859.1 L1204.7,859.2 L1207.2,859.4 L1209.7,859.5 L1212.2,859.6 L1214.7,859.8 L1217.2,859.9 L1219.7,860.0 L1222.2,860.1 L1224.7,860.3 L1227.2,860.4 L1229.7,860.5 L1232.2,860.6 L1234.6,860.7 L1237.1,860.8 L1239.6,860.9 L1242.1,861.0 L1244.6,861.1 L1247.1,861.2 L1249.6,861.3 L1252.1,861.4 L1254.6,861.5 L1257.1,861.6 L1259.6,861.7 L1262.1,861.8 L1264.6,861.8 L1267.1,861.9 L1269.6,862.0 L1272.1,862.1 L1274.6,862.1 L1277.1,862.2 L1279.6,862.3 L1282.1,862.3 L1284.6,862.4 L1287.1,862.5 L1289.6,862.5 L1292.1,862.6 L1294.6,862.7 L1297.1,862.7 L1299.6,862.8 L1302.1,862.8 L1304.6,862.9 L1307.1,862.9 L1309.6,863.0 L1312.1,863.0 L1314.6,863.1 L1317.1,863.1 L1319.6,863.1 L1322.1,863.2 L1324.6,863.2 L1327.1,863.3 L1329.6,863.3 L1332.1,863.3 L1334.6,863.4 L1337.1,863.4 L1339.6,863.4 L1342.1,863.5 L1344.6,863.5 L1347.1,863.5 L1349.6,863.6 L1352.1,863.6 L1354.6,863.6 L1357.1,863.7 L1359.6,863.7 L1362.1,863.7 L1364.6,863.7 L1367.1,863.8 L1369.6,863.8 L1372.1,863.8 L1374.6,863.8 L1377.1,863.8 L1379.6,863.9 L1382.1,863.9 L1384.6,863.9 L1387.1,863.9 L1389.6,863.9 L1392.1,864.0 L1394.6,864.0 L1397.1,864.0 L1399.6,864.0 L1402.1,864.0 L1404.6,864.1 L1407.1,864.1 L1409.6,864.1 L1412.1,864.1 L1414.6,864.1 L1417.1,864.2 L1419.6,864.2 L1422.1,864.2 L1424.6,864.2 L1427.1,864.2 L1429.6,864.3 L1432.1,864.3 L1434.6,864.3 L1437.1,864.3 L1439.6,864.3 L1442.1,864.4 L1444.6,864.4 L1447.1,864.4 L1449.6,864.4 L1452.1,864.5 L1454.6,864.5 L1457.1,864.5 L1459.6,864.5 L1462.1,864.6 L1464.6,864.6 L1467.1,864.6 L1469.6,864.7 L1472.1,864.7 L1474.6,864.7 L1477.1,864.7 L1479.6,864.8 L1482.1,864.8 L1484.6,864.8 L1487.1,864.9 L1489.6,864.9 L1492.1,864.9 L1494.6,865.0 L1497.1,865.0 L1499.6,865.0 L1502.1,865.1 L1504.6,865.1 L1507.1,865.2 L1509.6,865.2 L1512.1,865.2 L1514.6,865.3 L1517.1,865.3 L1519.6,865.3 L1522.1,865.4 L1524.6,865.4 L1527.1,865.5 L1529.6,865.5 L1532.1,865.5 L1534.6,865.6 L1537.1,865.6 L1539.6,865.7 L1542.1,865.7 L1544.6,865.7 L1547.1,865.8 L1549.6,865.8 L1552.1,865.9 L1554.6,865.9 L1557.1,865.9 L1559.6,866.0 L1562.1,866.0 L1564.6,866.1 L1567.1,866.1 L1569.5,866.2 L1572.0,866.2 L1574.5,866.2 L1577.0,866.3 L1579.5,866.3 L1582.0,866.4 L1584.5,866.4 L1587.0,866.5 L1589.5,866.5 L1592.0,866.5 L1594.5,866.6 L1597.0,866.6 L1599.5,866.7 L1602.0,866.7 L1604.5,866.8 L1607.0,866.8 L1609.5,866.9 L1612.0,866.9 L1614.5,866.9 L1617.0,867.0 L1619.5,867.0 L1622.0,867.1 L1624.5,867.1 L1627.0,867.2 L1629.5,867.2 L1632.0,867.2 L1634.5,867.3 L1637.0,867.3 L1639.5,867.4 L1642.0,867.4 L1644.5,867.4 L1647.0,867.5 L1649.5,867.5 L1652.0,867.6 L1654.5,867.6 L1657.0,867.7 L1659.5,867.7 L1662.0,867.7 L1664.5,867.8 L1667.0,867.8 L1669.5,867.9 L1672.0,867.9 L1674.5,867.9 L1677.0,868.0 L1679.5,868.0 L1682.0,868.0 L1684.5,868.1 L1687.0,868.1 L1689.5,868.2 L1692.0,868.2 L1694.5,868.2 L1697.0,868.3 L1699.5,868.3 L1702.0,868.3 L1704.5,868.4 L1707.0,868.4 L1709.5,868.4 L1712.0,868.5 L1714.5,868.5 L1717.0,868.5 L1719.5,868.6 L1722.0,868.6 L1724.5,868.6 L1727.0,868.6 L1729.5,868.7 L1732.0,868.7 L1734.5,868.7 L1737.0,868.7 L1739.5,868.8 L1742.0,868.8 L1744.5,868.8 L1747.0,868.8 L1749.5,868.9 L1752.0,868.9 L1754.5,868.9 L1757.0,868.9 L1759.5,869.0 L1762.0,869.0 L1764.5,869.0 L1767.0,869.0 L1769.5,869.0 L1772.0,869.1" fill="none" stroke="#1046de" stroke-width="7.2" stroke-linejoin="round" stroke-linecap="butt"/>
<path d="M217.5,766.7 L219.9,767.3 L222.4,767.9 L224.8,768.5 L227.2,769.1 L229.6,769.7 L232.1,770.3 L234.5,770.9 L236.9,771.5 L239.3,772.2 L241.7,772.8 L244.1,773.5 L246.5,774.1 L248.9,774.8 L251.3,775.5 L253.7,776.3 L256.1,777.0 L258.5,777.8 L260.8,778.6 L263.2,779.4 L265.5,780.3 L267.9,781.2 L270.2,782.1 L272.5,783.0 L274.9,783.9 L277.2,784.9 L279.5,785.8 L281.8,786.7 L284.1,787.6 L286.5,788.5 L288.8,789.4 L291.2,790.2 L293.5,791.0 L295.9,791.8 L298.3,792.5 L300.7,793.2 L303.1,793.8 L305.6,794.4 L308.0,794.9 L310.5,795.3 L313.0,795.6 L315.5,795.8 L318.0,795.8 L320.5,795.8 L322.9,795.6 L325.4,795.2 L327.9,794.6 L330.3,794.0 L332.6,793.2 L334.9,792.2 L337.2,791.2 L339.4,790.0 L341.6,788.8 L343.7,787.5 L345.8,786.1 L347.8,784.6 L349.7,783.0 L351.6,781.4 L353.5,779.7 L355.3,778.0 L357.0,776.2 L358.7,774.3 L360.4,772.5 L362.0,770.6 L363.6,768.6 L365.1,766.7 L366.6,764.7 L368.1,762.7 L369.6,760.7 L371.0,758.6 L372.5,756.6 L373.9,754.6 L375.4,752.5 L376.8,750.5 L378.2,748.4 L379.6,746.4 L381.0,744.3 L382.4,742.2 L383.8,740.1 L385.2,738.0 L386.5,735.9 L387.9,733.8 L389.2,731.7 L390.5,729.5 L391.7,727.4 L393.0,725.2 L394.3,723.1 L395.5,720.9 L396.7,718.7 L397.9,716.5 L399.1,714.3 L400.3,712.1 L401.4,709.9 L402.6,707.7 L403.7,705.5 L404.8,703.2 L406.0,701.0 L407.1,698.8 L408.2,696.5 L409.3,694.3 L410.4,692.0 L411.5,689.8 L412.5,687.5 L413.6,685.3 L414.7,683.0 L415.8,680.8 L416.8,678.5 L417.9,676.3 L419.0,674.0 L420.1,671.8 L421.1,669.5 L422.2,667.2 L423.3,665.0 L424.4,662.7 L425.5,660.5 L426.5,658.2 L427.6,656.0 L428.7,653.7 L429.8,651.5 L430.9,649.2 L432.0,647.0 L433.1,644.8 L434.2,642.5 L435.3,640.3 L436.4,638.0 L437.5,635.8 L438.6,633.5 L439.7,631.3 L440.8,629.0 L441.8,626.8 L443.0,624.5 L444.1,622.3 L445.2,620.1 L446.4,617.9 L447.6,615.7 L448.9,613.6 L450.3,611.5 L451.7,609.4 L453.2,607.4 L454.8,605.5 L456.5,603.7 L458.3,601.9 L460.2,600.3 L462.2,598.8 L464.2,597.4 L466.3,596.0 L468.5,594.8 L470.7,593.6 L472.9,592.4 L475.1,591.2 L477.3,590.1 L479.5,588.9 L481.7,587.7 L483.9,586.4 L486.0,585.2 L488.2,583.9 L490.3,582.6 L492.5,581.3 L494.6,580.1 L496.8,578.9 L499.0,577.7 L501.3,576.6 L503.5,575.6 L505.9,574.6 L508.3,574.0 L510.8,573.9 L513.2,574.5 L515.2,575.9 L517.0,577.6 L518.5,579.6 L520.0,581.7 L521.2,583.8 L522.4,586.0 L523.5,588.3 L524.4,590.6 L525.3,592.9 L526.1,595.3 L526.8,597.7 L527.5,600.1 L528.1,602.5 L528.8,604.9 L529.4,607.3 L530.1,609.7 L530.7,612.2 L531.3,614.6 L531.9,617.0 L532.4,619.5 L533.0,621.9 L533.5,624.3 L534.1,626.8 L534.6,629.2 L535.2,631.6 L535.7,634.1 L536.2,636.5 L536.7,639.0 L537.2,641.4 L537.7,643.9 L538.2,646.3 L538.7,648.8 L539.2,651.2 L539.6,653.7 L540.1,656.1 L540.6,658.6 L541.1,661.0 L541.6,663.5 L542.0,665.9 L542.5,668.4 L543.0,670.8 L543.5,673.3 L544.0,675.7 L544.4,678.2 L544.9,680.7 L545.4,683.1 L545.9,685.6 L546.3,688.0 L546.8,690.5 L547.3,692.9 L547.8,695.4 L548.3,697.8 L548.8,700.3 L549.3,702.7 L549.7,705.2 L550.2,707.6 L550.7,710.1 L551.2,712.5 L551.7,715.0 L552.2,717.4 L552.7,719.9 L553.2,722.3 L553.8,724.7 L554.3,727.2 L554.8,729.6 L555.3,732.1 L555.8,734.5 L556.4,737.0 L556.9,739.4 L557.4,741.8 L558.0,744.3 L558.5,746.7 L559.1,749.2 L559.6,751.6 L560.2,754.0 L560.8,756.4 L561.4,758.9 L562.0,761.3 L562.7,763.7 L563.4,766.1 L564.0,768.5 L564.7,770.9 L565.5,773.3 L566.2,775.7 L567.0,778.1 L567.8,780.4 L568.7,782.8 L569.6,785.1 L570.5,787.4 L571.5,789.7 L572.5,792.0 L573.5,794.3 L574.7,796.5 L575.8,798.7 L577.1,800.9 L578.4,803.0 L579.8,805.1 L581.3,807.1 L582.8,809.0 L584.5,810.9 L586.2,812.7 L588.0,814.5 L589.8,816.2 L591.8,817.8 L593.7,819.3 L595.8,820.7 L597.9,822.0 L600.1,823.3 L602.3,824.4 L604.5,825.5 L606.8,826.5 L609.2,827.3 L611.6,828.0 L614.0,828.7 L616.5,829.2 L618.9,829.6 L621.4,829.9 L623.9,830.1 L626.4,830.3 L628.9,830.4 L631.4,830.4 L633.9,830.4 L636.4,830.3 L638.9,830.2 L641.4,830.0 L643.8,829.8 L646.3,829.6 L648.8,829.4 L651.3,829.1 L653.8,828.9 L656.3,828.6 L658.8,828.4 L661.3,828.1 L663.7,827.9 L666.2,827.7 L668.7,827.4 L671.2,827.2 L673.7,827.0 L676.2,826.8 L678.7,826.6 L681.2,826.4 L683.7,826.2 L686.1,826.0 L688.6,825.8 L691.1,825.6 L693.6,825.5 L696.1,825.3 L698.6,825.2 L701.1,825.0 L703.6,824.9 L706.1,824.8 L708.6,824.7 L711.1,824.6 L713.6,824.5 L716.1,824.4 L718.6,824.3 L721.1,824.3 L723.6,824.2 L726.1,824.1 L728.6,824.1 L731.1,824.1 L733.6,824.0 L736.1,824.0 L738.6,823.9 L741.1,823.8 L743.6,823.8 L746.1,823.7 L748.6,823.6 L751.1,823.5 L753.5,823.4 L756.0,823.4 L758.5,823.5 L761.0,823.7 L763.5,824.1 L766.0,824.6 L768.4,825.1 L770.8,825.7 L773.3,826.2 L775.7,826.6 L778.2,827.0 L780.7,827.3 L783.2,827.4 L785.7,827.5 L788.2,827.5 L790.7,827.5 L793.2,827.4 L795.7,827.4 L798.2,827.4 L800.7,827.4 L803.2,827.5 L805.7,827.6 L808.1,827.8 L810.6,828.1 L813.1,828.4 L815.6,828.8 L818.0,829.2 L820.5,829.6 L823.0,830.1 L825.4,830.5 L827.9,831.0 L830.3,831.5 L832.8,832.1 L835.2,832.6 L837.6,833.2 L840.1,833.7 L842.5,834.3 L844.9,834.8 L847.4,835.4 L849.8,836.0 L852.2,836.6 L854.7,837.2 L857.1,837.8 L859.5,838.4 L861.9,839.0 L864.4,839.6 L866.8,840.2 L869.2,840.8 L871.6,841.4 L874.1,842.0 L876.5,842.5 L878.9,843.1 L881.4,843.7 L883.8,844.2 L886.2,844.8 L888.7,845.3 L891.1,845.9 L893.6,846.4 L896.0,846.9 L898.4,847.4 L900.9,847.9 L903.4,848.3 L905.8,848.8 L908.3,849.2 L910.7,849.7 L913.2,850.1 L915.7,850.5 L918.1,850.9 L920.6,851.3 L923.1,851.7 L925.5,852.0 L928.0,852.4 L930.5,852.7 L933.0,853.0 L935.4,853.3 L937.9,853.6 L940.4,853.8 L942.9,854.1 L945.4,854.3 L947.9,854.5 L950.4,854.7 L952.9,854.9 L955.4,855.1 L957.8,855.3 L960.3,855.4 L962.8,855.6 L965.3,855.7 L967.8,855.8 L970.3,856.0 L972.8,856.1 L975.3,856.2 L977.8,856.3 L980.3,856.4 L982.8,856.5 L985.3,856.6 L987.8,856.7 L990.3,856.8 L992.8,856.9 L995.3,857.0 L997.8,857.0 L1000.3,857.1 L1002.8,857.2 L1005.3,857.3 L1007.8,857.4 L1010.3,857.5 L1012.8,857.6 L1015.3,857.8 L1017.8,857.9 L1020.2,858.0 L1022.7,858.1 L1025.2,858.2 L1027.7,858.3 L1030.2,858.4 L1032.7,858.6 L1035.2,858.7 L1037.7,858.8 L1040.2,858.9 L1042.7,859.1 L1045.2,859.2 L1047.7,859.3 L1050.2,859.5 L1052.7,859.6 L1055.2,859.7 L1057.7,859.9 L1060.2,860.0 L1062.7,860.1 L1065.2,860.3 L1067.7,860.4 L1070.2,860.6 L1072.6,860.7 L1075.1,860.8 L1077.6,861.0 L1080.1,861.1 L1082.6,861.3 L1085.1,861.4 L1087.6,861.6 L1090.1,861.7 L1092.6,861.8 L1095.1,862.0 L1097.6,862.1 L1100.1,862.3 L1102.6,862.4 L1105.1,862.6 L1107.6,862.7 L1110.1,862.9 L1112.6,863.0 L1115.0,863.2 L1117.5,863.3 L1120.0,863.4 L1122.5,863.6 L1125.0,863.7 L1127.5,863.9 L1130.0,864.0 L1132.5,864.2 L1135.0,864.3 L1137.5,864.4 L1140.0,864.6 L1142.5,864.7 L1145.0,864.8 L1147.5,865.0 L1150.0,865.1 L1152.5,865.2 L1155.0,865.4 L1157.5,865.5 L1160.0,865.6 L1162.4,865.8 L1164.9,865.9 L1167.4,866.0 L1169.9,866.1 L1172.4,866.3 L1174.9,866.4 L1177.4,866.5 L1179.9,866.6 L1182.4,866.7 L1184.9,866.8 L1187.4,866.9 L1189.9,867.1 L1192.4,867.2 L1194.9,867.3 L1197.4,867.4 L1199.9,867.5 L1202.4,867.6 L1204.9,867.7 L1207.4,867.8 L1209.9,867.9 L1212.4,868.0 L1214.9,868.1 L1217.4,868.1 L1219.9,868.2 L1222.4,868.3 L1224.9,868.4 L1227.4,868.5 L1229.8,868.6 L1232.3,868.7 L1234.8,868.7 L1237.3,868.8 L1239.8,868.9 L1242.3,869.0 L1244.8,869.1 L1247.3,869.1 L1249.8,869.2 L1252.3,869.3 L1254.8,869.3 L1257.3,869.4 L1259.8,869.5 L1262.3,869.5 L1264.8,869.6 L1267.3,869.7 L1269.8,869.7 L1272.3,869.8 L1274.8,869.8 L1277.3,869.9 L1279.8,870.0 L1282.3,870.0 L1284.8,870.1 L1287.3,870.1 L1289.8,870.2 L1292.3,870.2 L1294.8,870.3 L1297.3,870.3 L1299.8,870.4 L1302.3,870.4 L1304.8,870.4 L1307.3,870.5 L1309.8,870.5 L1312.3,870.6 L1314.8,870.6 L1317.3,870.6 L1319.8,870.7 L1322.3,870.7 L1324.8,870.8 L1327.3,870.8 L1329.8,870.8 L1332.3,870.9 L1334.8,870.9 L1337.3,870.9 L1339.8,870.9 L1342.3,871.0 L1344.8,871.0 L1347.3,871.0 L1349.7,871.1 L1352.2,871.1 L1354.7,871.1 L1357.2,871.1 L1359.7,871.1 L1362.2,871.2 L1364.7,871.2 L1367.2,871.2 L1369.7,871.2 L1372.2,871.2 L1374.7,871.3 L1377.2,871.3 L1379.7,871.3 L1382.2,871.3 L1384.7,871.3 L1387.2,871.3 L1389.7,871.3 L1392.2,871.3 L1394.7,871.4 L1397.2,871.4 L1399.7,871.4 L1402.2,871.4 L1404.7,871.4 L1407.2,871.4 L1409.7,871.4 L1412.2,871.4 L1414.7,871.4 L1417.2,871.4 L1419.7,871.4 L1422.2,871.4 L1424.7,871.4 L1427.2,871.4 L1429.7,871.4 L1432.2,871.4 L1434.7,871.4 L1437.2,871.4 L1439.7,871.4 L1442.2,871.4 L1444.7,871.4 L1447.2,871.4 L1449.7,871.4 L1452.2,871.4 L1454.7,871.4 L1457.2,871.4 L1459.7,871.4 L1462.2,871.4 L1464.7,871.4 L1467.2,871.4 L1469.7,871.4 L1472.2,871.3 L1474.7,871.3 L1477.2,871.3 L1479.7,871.3 L1482.2,871.3 L1484.7,871.3 L1487.2,871.3 L1489.7,871.3 L1492.2,871.3 L1494.7,871.3 L1497.2,871.2 L1499.7,871.2 L1502.2,871.2 L1504.7,871.2 L1507.2,871.2 L1509.7,871.2 L1512.2,871.2 L1514.7,871.2 L1517.1,871.1 L1519.6,871.1 L1522.1,871.1 L1524.6,871.1 L1527.1,871.1 L1529.6,871.1 L1532.1,871.1 L1534.6,871.1 L1537.1,871.0 L1539.6,871.0 L1542.1,871.0 L1544.6,871.0 L1547.1,871.0 L1549.6,871.0 L1552.1,871.0 L1554.6,870.9 L1557.1,870.9 L1559.6,870.9 L1562.1,870.9 L1564.6,870.9 L1567.1,870.9 L1569.6,870.9 L1572.1,870.8 L1574.6,870.8 L1577.1,870.8 L1579.6,870.8 L1582.1,870.8 L1584.6,870.8 L1587.1,870.8 L1589.6,870.7 L1592.1,870.7 L1594.6,870.7 L1597.1,870.7 L1599.6,870.7 L1602.1,870.7 L1604.6,870.7 L1607.1,870.6 L1609.6,870.6 L1612.1,870.6 L1614.6,870.6 L1617.1,870.6 L1619.6,870.6 L1622.1,870.6 L1624.6,870.6 L1627.1,870.6 L1629.6,870.5 L1632.1,870.5 L1634.6,870.5 L1637.1,870.5 L1639.6,870.5 L1642.1,870.5 L1644.6,870.5 L1647.1,870.5 L1649.6,870.5 L1652.1,870.5 L1654.6,870.5 L1657.1,870.5 L1659.6,870.5 L1662.1,870.5 L1664.6,870.5 L1667.1,870.4 L1669.6,870.4 L1672.1,870.4 L1674.6,870.4 L1677.1,870.4 L1679.6,870.4 L1682.0,870.4 L1684.5,870.4 L1687.0,870.4 L1689.5,870.4 L1692.0,870.4 L1694.5,870.4 L1697.0,870.4 L1699.5,870.5 L1702.0,870.5 L1704.5,870.5 L1707.0,870.5 L1709.5,870.5 L1712.0,870.5 L1714.5,870.5 L1717.0,870.5 L1719.5,870.5 L1722.0,870.5 L1724.5,870.5 L1727.0,870.5 L1729.5,870.6 L1732.0,870.6 L1734.5,870.6 L1737.0,870.6 L1739.5,870.6 L1742.0,870.6 L1744.5,870.6 L1747.0,870.7 L1749.5,870.7 L1752.0,870.7 L1754.5,870.7 L1757.0,870.7 L1759.5,870.8 L1762.0,870.8 L1764.5,870.8 L1767.0,870.8 L1769.5,870.9 L1772.0,870.9" fill="none" stroke="#08f00e" stroke-width="7.2" stroke-linejoin="round" stroke-linecap="butt"/>
<path d="M217.5,516.0 L217.8,518.5 L218.3,520.9 L219.1,523.3 L220.0,525.6 L221.0,527.9 L222.1,530.2 L223.2,532.4 L224.4,534.6 L225.6,536.8 L226.7,539.0 L227.7,541.3 L228.7,543.6 L229.5,546.0 L230.3,548.3 L231.1,550.7 L231.8,553.1 L232.5,555.5 L233.2,557.9 L233.9,560.3 L234.6,562.7 L235.3,565.1 L236.1,567.5 L236.9,569.8 L237.6,572.2 L238.4,574.6 L239.2,576.9 L240.0,579.3 L240.8,581.7 L241.6,584.0 L242.5,586.4 L243.3,588.8 L244.1,591.1 L244.9,593.5 L245.7,595.8 L246.5,598.2 L247.3,600.6 L248.1,602.9 L248.9,605.3 L249.6,607.7 L250.4,610.1 L251.1,612.5 L251.9,614.9 L252.6,617.2 L253.3,619.6 L254.0,622.0 L254.7,624.4 L255.4,626.8 L256.1,629.2 L256.8,631.6 L257.5,634.0 L258.1,636.4 L258.8,638.8 L259.5,641.3 L260.1,643.7 L260.8,646.1 L261.4,648.5 L262.1,650.9 L262.7,653.3 L263.3,655.7 L264.0,658.2 L264.6,660.6 L265.2,663.0 L265.9,665.4 L266.5,667.8 L267.1,670.2 L267.7,672.7 L268.4,675.1 L269.0,677.5 L269.6,679.9 L270.2,682.3 L270.9,684.8 L271.5,687.2 L272.1,689.6 L272.7,692.0 L273.4,694.4 L274.0,696.8 L274.6,699.3 L275.3,701.7 L275.9,704.1 L276.6,706.5 L277.2,708.9 L277.9,711.3 L278.6,713.7 L279.2,716.1 L279.9,718.5 L280.6,720.9 L281.3,723.3 L282.0,725.7 L282.7,728.1 L283.4,730.5 L284.1,732.9 L284.9,735.3 L285.6,737.7 L286.4,740.1 L287.1,742.4 L287.9,744.8 L288.7,747.2 L289.4,749.6 L290.2,751.9 L291.0,754.3 L291.9,756.7 L292.7,759.0 L293.6,761.3 L294.5,763.7 L295.4,766.0 L296.3,768.3 L297.2,770.7 L298.2,773.0 L299.2,775.2 L300.2,777.5 L301.2,779.8 L302.3,782.0 L303.6,784.2 L305.7,785.3 L307.6,783.8 L309.0,781.7 L310.1,779.5 L311.2,777.2 L312.3,774.9 L313.2,772.6 L314.2,770.3 L315.1,768.0 L316.0,765.7 L316.9,763.4 L317.9,761.0 L318.8,758.7 L319.8,756.5 L320.9,754.2 L322.0,752.0 L323.2,749.8 L324.4,747.6 L325.6,745.4 L326.8,743.2 L328.0,741.0 L329.2,738.8 L330.3,736.6 L331.5,734.4 L332.7,732.2 L334.0,730.1 L335.5,728.0 L337.1,726.2 L339.0,724.5 L341.1,723.1 L343.4,722.2 L345.8,721.9 L348.2,722.6 L350.4,723.8 L352.3,725.4 L354.1,727.2 L355.7,729.1 L357.2,731.1 L358.6,733.2 L359.9,735.3 L361.1,737.5 L362.3,739.7 L363.4,741.9 L364.4,744.2 L365.5,746.5 L366.5,748.7 L367.6,751.0 L368.7,753.2 L369.8,755.5 L370.9,757.7 L372.1,759.9 L373.2,762.1 L374.4,764.3 L375.6,766.5 L376.8,768.7 L378.0,770.9 L379.2,773.1 L380.3,775.3 L381.5,777.5 L382.7,779.7 L383.8,782.0 L384.9,784.2 L386.1,786.4 L387.1,788.7 L388.2,790.9 L389.3,793.2 L390.3,795.5 L391.4,797.7 L392.4,800.0 L393.5,802.2 L394.7,804.5 L395.8,806.7 L397.0,808.9 L398.2,811.0 L399.5,813.2 L400.9,815.3 L402.3,817.3 L403.7,819.4 L405.2,821.4 L406.8,823.3 L408.3,825.3 L409.9,827.3 L411.4,829.2 L412.9,831.2 L414.5,833.2 L415.9,835.2 L417.4,837.2 L418.7,839.3 L420.1,841.5 L421.3,843.6 L422.6,845.8 L423.9,847.9 L425.1,850.1 L426.5,852.2 L427.8,854.3 L429.3,856.3 L430.8,858.3 L432.5,860.1 L434.2,861.9 L436.1,863.6 L438.1,865.0 L440.3,866.2 L442.7,867.0 L445.2,867.4 L447.7,867.5 L450.1,867.4 L452.6,867.1 L455.1,866.8 L457.6,866.5 L460.1,866.1 L462.5,865.7 L465.0,865.2 L467.4,864.8 L469.9,864.3 L472.3,863.8 L474.8,863.4 L477.2,862.9 L479.7,862.5 L482.2,862.1 L484.6,861.7 L487.1,861.4 L489.6,861.1 L492.1,860.8 L494.6,860.5 L497.1,860.3 L499.5,860.1 L502.0,859.9 L504.5,859.8 L507.0,859.6 L509.5,859.5 L512.0,859.5 L514.5,859.4 L517.0,859.3 L519.5,859.3 L522.0,859.3 L524.5,859.2 L527.0,859.2 L529.5,859.2 L532.0,859.2 L534.5,859.1 L537.0,859.1 L539.5,859.0 L542.0,859.0 L544.5,858.9 L547.0,858.8 L549.5,858.7 L552.0,858.6 L554.5,858.6 L557.0,858.6 L559.5,858.6 L562.0,858.7 L564.4,858.9 L566.9,859.1 L569.4,859.4 L571.9,859.8 L574.3,860.3 L576.8,860.8 L579.2,861.3 L581.7,861.8 L584.1,862.4 L586.5,863.0 L588.9,863.6 L591.4,864.2 L593.8,864.8 L596.2,865.3 L598.7,865.8 L601.1,866.4 L603.6,866.9 L606.0,867.4 L608.5,867.8 L610.9,868.3 L613.4,868.7 L615.8,869.2 L618.3,869.6 L620.8,870.0 L623.2,870.4 L625.7,870.7 L628.2,871.1 L630.7,871.4 L633.1,871.7 L635.6,872.0 L638.1,872.2 L640.6,872.5 L643.1,872.7 L645.6,872.9 L648.1,873.1 L650.6,873.3 L653.1,873.5 L655.5,873.6 L658.0,873.7 L660.5,873.8 L663.0,873.9 L665.5,874.0 L668.0,874.1 L670.5,874.1 L673.0,874.2 L675.5,874.2 L678.0,874.2 L680.5,874.2 L683.0,874.2 L685.5,874.2 L688.0,874.2 L690.5,874.1 L693.0,874.1 L695.5,874.0 L698.0,874.0 L700.5,873.9 L703.0,873.9 L705.5,873.8 L708.0,873.7 L710.5,873.6 L713.0,873.5 L715.5,873.5 L718.0,873.4 L720.5,873.3 L723.0,873.2 L725.5,873.1 L728.0,873.0 L730.4,872.9 L732.9,872.8 L735.4,872.7 L737.9,872.6 L740.4,872.6 L742.9,872.5 L745.4,872.4 L747.9,872.3 L750.4,872.2 L752.9,872.2 L755.4,872.1 L757.9,872.0 L760.4,872.0 L762.9,871.9 L765.4,871.9 L767.9,871.8 L770.4,871.8 L772.9,871.7 L775.4,871.7 L777.9,871.6 L780.4,871.6 L782.9,871.6 L785.4,871.5 L787.9,871.5 L790.4,871.5 L792.9,871.4 L795.4,871.4 L797.9,871.4 L800.4,871.4 L802.9,871.3 L805.4,871.3 L807.9,871.3 L810.4,871.3 L812.9,871.3 L815.4,871.3 L817.9,871.3 L820.3,871.3 L822.8,871.3 L825.3,871.3 L827.8,871.3 L830.3,871.3 L832.8,871.3 L835.3,871.3 L837.8,871.3 L840.3,871.3 L842.8,871.3 L845.3,871.3 L847.8,871.3 L850.3,871.3 L852.8,871.3 L855.3,871.3 L857.8,871.4 L860.3,871.4 L862.8,871.4 L865.3,871.4 L867.8,871.4 L870.3,871.4 L872.8,871.5 L875.3,871.5 L877.8,871.5 L880.3,871.5 L882.8,871.5 L885.3,871.6 L887.8,871.6 L890.3,871.6 L892.8,871.6 L895.3,871.7 L897.8,871.7 L900.3,871.7 L902.8,871.7 L905.3,871.7 L907.8,871.8 L910.3,871.8 L912.8,871.8 L915.3,871.8 L917.8,871.9 L920.3,871.9 L922.8,871.9 L925.3,871.9 L927.8,872.0 L930.3,872.0 L932.7,872.0 L935.2,872.0 L937.7,872.1 L940.2,872.1 L942.7,872.1 L945.2,872.1 L947.7,872.2 L950.2,872.2 L952.7,872.2 L955.2,872.2 L957.7,872.2 L960.2,872.3 L962.7,872.3 L965.2,872.3 L967.7,872.3 L970.2,872.4 L972.7,872.4 L975.2,872.4 L977.7,872.4 L980.2,872.5 L982.7,872.5 L985.2,872.5 L987.7,872.5 L990.2,872.6 L992.7,872.6 L995.2,872.6 L997.7,872.6 L1000.2,872.7 L1002.7,872.7 L1005.2,872.7 L1007.7,872.7 L1010.2,872.8 L1012.7,872.8 L1015.2,872.8 L1017.7,872.8 L1020.2,872.9 L1022.7,872.9 L1025.2,872.9 L1027.7,872.9 L1030.2,873.0 L1032.7,873.0 L1035.2,873.0 L1037.7,873.0 L1040.1,873.0 L1042.6,873.1 L1045.1,873.1 L1047.6,873.1 L1050.1,873.1 L1052.6,873.2 L1055.1,873.2 L1057.6,873.2 L1060.1,873.2 L1062.6,873.3 L1065.1,873.3 L1067.6,873.3 L1070.1,873.3 L1072.6,873.4 L1075.1,873.4 L1077.6,873.4 L1080.1,873.4 L1082.6,873.4 L1085.1,873.5 L1087.6,873.5 L1090.1,873.5 L1092.6,873.5 L1095.1,873.6 L1097.6,873.6 L1100.1,873.6 L1102.6,873.6 L1105.1,873.6 L1107.6,873.7 L1110.1,873.7 L1112.6,873.7 L1115.1,873.7 L1117.6,873.8 L1120.1,873.8 L1122.6,873.8 L1125.1,873.8 L1127.6,873.8 L1130.1,873.9 L1132.6,873.9 L1135.1,873.9 L1137.6,873.9 L1140.1,873.9 L1142.6,874.0 L1145.1,874.0 L1147.6,874.0 L1150.0,874.0 L1152.5,874.0 L1155.0,874.1 L1157.5,874.1 L1160.0,874.1 L1162.5,874.1 L1165.0,874.1 L1167.5,874.1 L1170.0,874.2 L1172.5,874.2 L1175.0,874.2 L1177.5,874.2 L1180.0,874.2 L1182.5,874.3 L1185.0,874.3 L1187.5,874.3 L1190.0,874.3 L1192.5,874.3 L1195.0,874.3 L1197.5,874.3 L1200.0,874.4 L1202.5,874.4 L1205.0,874.4 L1207.5,874.4 L1210.0,874.4 L1212.5,874.4 L1215.0,874.5 L1217.5,874.5 L1220.0,874.5 L1222.5,874.5 L1225.0,874.5 L1227.5,874.5 L1230.0,874.5 L1232.5,874.6 L1235.0,874.6 L1237.5,874.6 L1240.0,874.6 L1242.5,874.6 L1245.0,874.6 L1247.5,874.6 L1250.0,874.6 L1252.5,874.6 L1255.0,874.7 L1257.5,874.7 L1260.0,874.7 L1262.4,874.7 L1264.9,874.7 L1267.4,874.7 L1269.9,874.7 L1272.4,874.7 L1274.9,874.7 L1277.4,874.7 L1279.9,874.7 L1282.4,874.8 L1284.9,874.8 L1287.4,874.8 L1289.9,874.8 L1292.4,874.8 L1294.9,874.8 L1297.4,874.8 L1299.9,874.8 L1302.4,874.8 L1304.9,874.8 L1307.4,874.8 L1309.9,874.8 L1312.4,874.8 L1314.9,874.8 L1317.4,874.8 L1319.9,874.9 L1322.4,874.9 L1324.9,874.9 L1327.4,874.9 L1329.9,874.9 L1332.4,874.9 L1334.9,874.9 L1337.4,874.9 L1339.9,874.9 L1342.4,874.9 L1344.9,874.9 L1347.4,874.9 L1349.9,874.9 L1352.4,874.9 L1354.9,874.9 L1357.4,874.9 L1359.9,874.9 L1362.4,874.9 L1364.9,874.9 L1367.4,874.9 L1369.9,874.9 L1372.4,874.9 L1374.8,874.9 L1377.3,874.9 L1379.8,874.9 L1382.3,874.9 L1384.8,874.9 L1387.3,874.9 L1389.8,874.9 L1392.3,874.9 L1394.8,874.9 L1397.3,874.9 L1399.8,874.9 L1402.3,874.9 L1404.8,874.9 L1407.3,874.9 L1409.8,874.9 L1412.3,874.9 L1414.8,874.9 L1417.3,874.9 L1419.8,874.9 L1422.3,874.9 L1424.8,874.9 L1427.3,874.9 L1429.8,874.9 L1432.3,874.9 L1434.8,874.9 L1437.3,874.9 L1439.8,874.9 L1442.3,874.9 L1444.8,874.9 L1447.3,874.9 L1449.8,874.9 L1452.3,874.9 L1454.8,874.9 L1457.3,874.9 L1459.8,874.9 L1462.3,874.9 L1464.8,874.9 L1467.3,874.9 L1469.8,874.9 L1472.3,874.9 L1474.8,874.9 L1477.3,874.8 L1479.8,874.8 L1482.3,874.8 L1484.8,874.8 L1487.3,874.8 L1489.7,874.8 L1492.2,874.8 L1494.7,874.8 L1497.2,874.8 L1499.7,874.8 L1502.2,874.8 L1504.7,874.8 L1507.2,874.8 L1509.7,874.8 L1512.2,874.8 L1514.7,874.8 L1517.2,874.8 L1519.7,874.8 L1522.2,874.8 L1524.7,874.8 L1527.2,874.8 L1529.7,874.8 L1532.2,874.8 L1534.7,874.8 L1537.2,874.7 L1539.7,874.7 L1542.2,874.7 L1544.7,874.7 L1547.2,874.7 L1549.7,874.7 L1552.2,874.7 L1554.7,874.7 L1557.2,874.7 L1559.7,874.7 L1562.2,874.7 L1564.7,874.7 L1567.2,874.7 L1569.7,874.7 L1572.2,874.7 L1574.7,874.7 L1577.2,874.7 L1579.7,874.7 L1582.2,874.7 L1584.7,874.7 L1587.2,874.7 L1589.7,874.6 L1592.2,874.6 L1594.7,874.6 L1597.2,874.6 L1599.7,874.6 L1602.2,874.6 L1604.6,874.6 L1607.1,874.6 L1609.6,874.6 L1612.1,874.6 L1614.6,874.6 L1617.1,874.6 L1619.6,874.6 L1622.1,874.6 L1624.6,874.6 L1627.1,874.6 L1629.6,874.6 L1632.1,874.6 L1634.6,874.6 L1637.1,874.6 L1639.6,874.6 L1642.1,874.6 L1644.6,874.5 L1647.1,874.5 L1649.6,874.5 L1652.1,874.5 L1654.6,874.5 L1657.1,874.5 L1659.6,874.5 L1662.1,874.5 L1664.6,874.5 L1667.1,874.5 L1669.6,874.5 L1672.1,874.5 L1674.6,874.5 L1677.1,874.5 L1679.6,874.5 L1682.1,874.5 L1684.6,874.5 L1687.1,874.5 L1689.6,874.5 L1692.1,874.5 L1694.6,874.5 L1697.1,874.5 L1699.6,874.5 L1702.1,874.5 L1704.6,874.5 L1707.1,874.5 L1709.6,874.5 L1712.1,874.5 L1714.6,874.5 L1717.1,874.5 L1719.5,874.5 L1722.0,874.5 L1724.5,874.5 L1727.0,874.5 L1729.5,874.5 L1732.0,874.5 L1734.5,874.5 L1737.0,874.5 L1739.5,874.5 L1742.0,874.5 L1744.5,874.5 L1747.0,874.5 L1749.5,874.5 L1752.0,874.5 L1754.5,874.5 L1757.0,874.5 L1759.5,874.5 L1762.0,874.5 L1764.5,874.5 L1767.0,874.5 L1769.5,874.5 L1772.0,874.5" fill="none" stroke="#a3479c" stroke-width="7.2" stroke-linejoin="round" stroke-linecap="butt"/>
<text x="195.9" y="899.30" font-family="'Liberation Sans', Arial, Helvetica, sans-serif" font-weight="bold" font-size="72" text-anchor="end">0.0</text>
<text x="195.9" y="689.12" font-family="'Liberation Sans', Arial, Helvetica, sans-serif" font-weight="bold" font-size="72" text-anchor="end">0.5</text>
<text x="195.9" y="478.95" font-family="'Liberation Sans', Arial, Helvetica, sans-serif" font-weight="bold" font-size="72" text-anchor="end">1.0</text>
<text x="195.9" y="268.77" font-family="'Liberation Sans', Arial, Helvetica, sans-serif" font-weight="bold" font-size="72" text-anchor="end">1.5</text>
<text x="195.9" y="58.60" font-family="'Liberation Sans', Arial, Helvetica, sans-serif" font-weight="bold" font-size="72" text-anchor="end">2.0</text>
<text x="543.90" y="1038" font-family="'Liberation Sans', Arial, Helvetica, sans-serif" font-weight="bold" font-size="72" text-anchor="middle">250</text>
<text x="953.17" y="1038" font-family="'Liberation Sans', Arial, Helvetica, sans-serif" font-weight="bold" font-size="72" text-anchor="middle">300</text>
<text x="1362.43" y="1038" font-family="'Liberation Sans', Arial, Helvetica, sans-serif" font-weight="bold" font-size="72" text-anchor="middle">350</text>
<text x="1771.70" y="1038" font-family="'Liberation Sans', Arial, Helvetica, sans-serif" font-weight="bold" font-size="72" text-anchor="middle">400</text>
<text x="765.20" y="1150.90" font-family="'Liberation Sans', Arial, Helvetica, sans-serif" font-weight="bold" font-size="57.30" textLength="462.88" lengthAdjust="spacing">Wavelength (nm)</text>
<text transform="translate(53.80,630.00) rotate(-90)" x="0" y="0" font-family="'Liberation Sans', Arial, Helvetica, sans-serif" font-weight="bold" font-size="66.00" textLength="370.77" lengthAdjust="spacing">Absorbance</text>
<line x1="1522" y1="353.8" x2="1612.4" y2="353.8" stroke="#08f00e" stroke-width="7.4"/>
<text x="1636.60" y="375.10" font-family="'Liberation Sans', Arial, Helvetica, sans-serif" font-weight="bold" font-size="59.30" textLength="325.05" lengthAdjust="spacing">Remdesivir</text>
<line x1="1522" y1="442.8" x2="1612.4" y2="442.8" stroke="#1046de" stroke-width="7.4"/>
<text x="1636.60" y="464.00" font-family="'Liberation Sans', Arial, Helvetica, sans-serif" font-weight="bold" font-size="59.50" textLength="357.69" lengthAdjust="spacing">Molnupiravir</text>
<line x1="1522" y1="531.3" x2="1612.4" y2="531.3" stroke="#16737c" stroke-width="7.4"/>
<text x="1636.60" y="553.00" font-family="'Liberation Sans', Arial, Helvetica, sans-serif" font-weight="bold" font-size="60.00" textLength="304.16" lengthAdjust="spacing">Favipiravir</text>
<line x1="1522" y1="621.6" x2="1612.4" y2="621.6" stroke="#fb4c0a" stroke-width="7.4"/>
<text x="1636.80" y="642.80" font-family="'Liberation Sans', Arial, Helvetica, sans-serif" font-weight="bold" font-size="59.50" textLength="257.88" lengthAdjust="spacing">Ritonavir</text>
<line x1="1522" y1="713.1" x2="1612.4" y2="713.1" stroke="#a3479c" stroke-width="7.4"/>
<text x="1636.60" y="736.10" font-family="'Liberation Sans', Arial, Helvetica, sans-serif" font-weight="bold" font-size="62.30" textLength="348.64" lengthAdjust="spacing">Nirmatrelvir</text>
</svg>
</body></html>
